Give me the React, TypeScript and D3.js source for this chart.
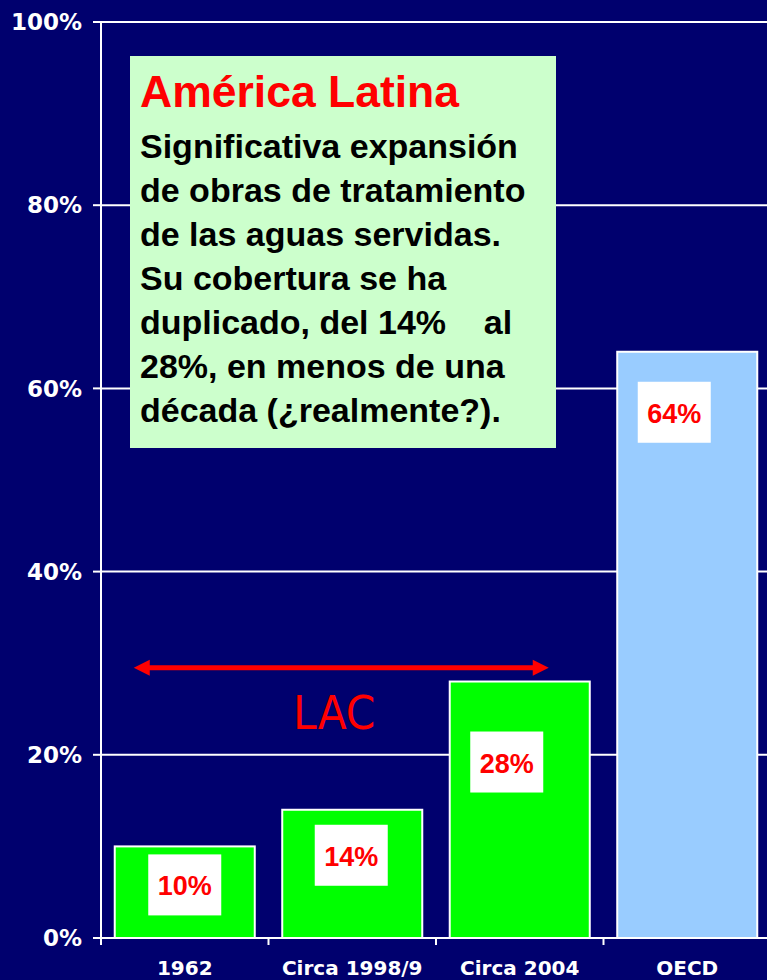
import React from "react";
import * as d3 from "d3";

// chart data
const categories = ["1962", "Circa 1998/9", "Circa 2004", "OECD"];
const values = [0.1, 0.14, 0.28, 0.64];
const valueLabels = ["10%", "14%", "28%", "64%"];
const barColors = ["#00ff00", "#00ff00", "#00ff00", "#99ccff"];
const yTicks = [0, 0.2, 0.4, 0.6, 0.8, 1];

// annotation text
const noteTitle = "América Latina";
const noteLines = [
  "Significativa expansión",
  "de obras de tratamiento",
  "de las aguas servidas.",
  "Su cobertura se ha",
  "duplicado, del 14%    al",
  "28%, en menos de una",
  "década (¿realmente?).",
];
const lacLabel = "LAC";
const lacLevel = 0.295;

const W = 767;
const H = 980;
const BG = "#00006e";
const plot = { left: 101, right: 771, top: 22, bottom: 938 };
// hand placed value boxes (offset from bar centre / bar top)
const boxOffsets = [
  { dx: 0, dy: 8 },
  { dx: -1, dy: 15 },
  { dx: -13, dy: 50 },
  { dx: -13, dy: 30 },
];
const boxW = 73;
const boxH = 61;

const axisFont = "'DejaVu Sans', Verdana, sans-serif";
const arial = "'Liberation Sans', Arial, sans-serif";

export default function App() {
  const x = d3
    .scaleBand<string>()
    .domain(categories)
    .range([plot.left, plot.right])
    .paddingInner(0.164)
    .paddingOuter(0.082);
  const y = d3.scaleLinear().domain([0, 1]).range([plot.bottom, plot.top]);
  const step = x.step();
  const bw = x.bandwidth();

  const arrowY = y(lacLevel);
  const arrowX0 = (x(categories[0]) as number) + 19;
  const arrowX1 = (x(categories[2]) as number) + 99;
  const head = 16;

  return (
    <svg
      width={W}
      height={H}
      style={{ position: "absolute", left: 0, top: 0, background: BG }}
    >
      <rect x={0} y={0} width={W} height={H} fill={BG} />

      {/* gridlines + y ticks */}
      {yTicks.map((t) => (
        <g key={t}>
          {t > 0 && (
            <line x1={plot.left} x2={W} y1={y(t)} y2={y(t)} stroke="#fff" strokeWidth={2} />
          )}
          <line x1={plot.left - 8} x2={plot.left} y1={y(t)} y2={y(t)} stroke="#fff" strokeWidth={2} />
          <text
            x={82}
            y={y(t)}
            dy="0.36em"
            textAnchor="end"
            fill="#fff"
            fontFamily={axisFont}
            fontWeight="bold"
            fontSize={23}
          >
            {d3.format(".0%")(t)}
          </text>
        </g>
      ))}

      {/* bars */}
      {categories.map((c, i) => (
        <rect
          key={c}
          x={x(c)}
          y={y(values[i])}
          width={bw}
          height={y(0) - y(values[i])}
          fill={barColors[i]}
          stroke="#fff"
          strokeWidth={2}
        />
      ))}

      {/* value boxes */}
      {categories.map((c, i) => {
        const cx = (x(c) as number) + bw / 2 + boxOffsets[i].dx;
        const top = y(values[i]) + boxOffsets[i].dy;
        return (
          <g key={c + "-lbl"}>
            <rect x={cx - boxW / 2} y={top} width={boxW} height={boxH} fill="#fff" />
            <text
              x={cx}
              y={top + 41}
              textAnchor="middle"
              fill="#ff0000"
              fontFamily={arial}
              fontWeight="bold"
              fontSize={27}
            >
              {valueLabels[i]}
            </text>
          </g>
        );
      })}

      {/* axes */}
      <line x1={plot.left} x2={plot.left} y1={plot.top} y2={plot.bottom} stroke="#fff" strokeWidth={2} />
      <line x1={plot.left} x2={W} y1={plot.bottom} y2={plot.bottom} stroke="#fff" strokeWidth={2} />
      {categories.map((c, i) => (
        <line
          key={c + "-tick"}
          x1={plot.left + i * step}
          x2={plot.left + i * step}
          y1={plot.bottom}
          y2={plot.bottom + 7}
          stroke="#fff"
          strokeWidth={2}
        />
      ))}
      {categories.map((c) => (
        <text
          key={c + "-x"}
          x={(x(c) as number) + bw / 2}
          y={975}
          textAnchor="middle"
          fill="#fff"
          fontFamily={axisFont}
          fontWeight="bold"
          fontSize={20}
        >
          {c}
        </text>
      ))}

      {/* LAC arrow */}
      <line x1={arrowX0 + head - 2} x2={arrowX1 - head + 2} y1={arrowY} y2={arrowY} stroke="#ff0000" strokeWidth={5} />
      <path
        d={`M${arrowX0},${arrowY} L${arrowX0 + head},${arrowY - 8} L${arrowX0 + head},${arrowY + 8} Z`}
        fill="#ff0000"
      />
      <path
        d={`M${arrowX1},${arrowY} L${arrowX1 - head},${arrowY - 8} L${arrowX1 - head},${arrowY + 8} Z`}
        fill="#ff0000"
      />
      <text
        x={(arrowX0 + arrowX1) / 2 - 7}
        y={arrowY + 61}
        textAnchor="middle"
        fill="#ff0000"
        fontFamily="'DejaVu Sans Condensed', 'DejaVu Sans', sans-serif"
        fontStretch="condensed"
        fontSize={47}
      >
        {lacLabel}
      </text>

      {/* note box */}
      <rect x={130} y={56} width={426} height={392} fill="#ccffcc" />
      <text x={140} y={107} fill="#ff0000" fontFamily={arial} fontWeight="bold" fontSize={44.5}>
        {noteTitle}
      </text>
      {noteLines.map((l, i) => (
        <text
          key={i}
          x={140}
          y={158 + i * 44}
          fill="#000"
          fontFamily={arial}
          fontWeight="bold"
          fontSize={34}
          style={{ whiteSpace: "pre" }}
        >
          {l}
        </text>
      ))}
    </svg>
  );
}
